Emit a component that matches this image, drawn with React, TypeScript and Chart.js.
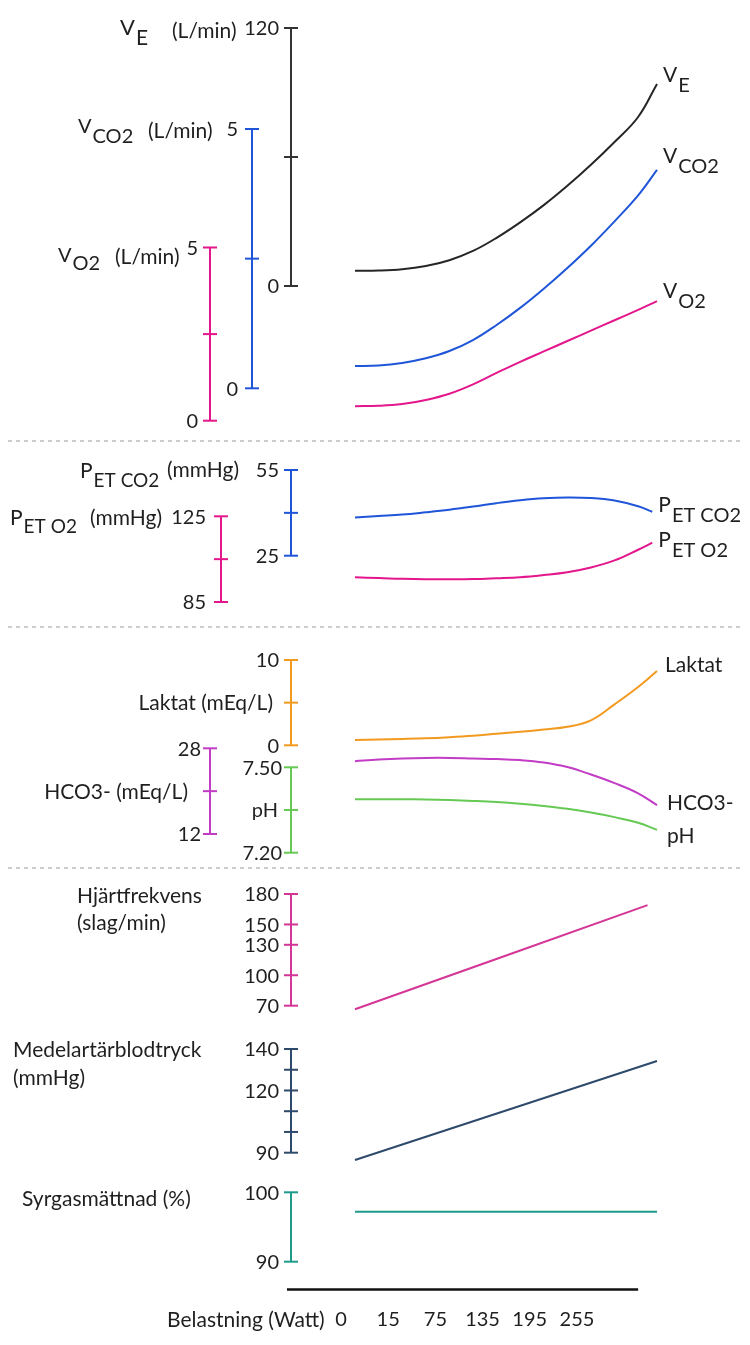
import React, { useEffect, useRef } from 'react';
import Chart from 'chart.js/auto';

// x: belastningssteg (0 = vila), etiketter i watt per steg
const steg = [0, 0.5, 1, 1.5, 2, 2.5, 3, 3.5, 4, 4.5, 5, 5.5, 6, 6.4];
const petSteg = [0, 0.5, 1, 1.5, 2, 2.5, 3, 3.5, 4, 4.5, 5, 5.5, 6, 6.3];
const linjeSteg = [0, 6.4];
const hrSteg = [0, 6.2];
const belastning = ['0', '15', '75', '135', '195', '255'];

// serier
const ve = [7.1, 7.2, 7.8, 9.3, 12.0, 16.3, 22.4, 29.6, 37.6, 46.6, 56.4, 67.0, 78.6, 94.0];
const vco2 = [0.43, 0.44, 0.49, 0.58, 0.72, 0.93, 1.22, 1.55, 1.92, 2.32, 2.75, 3.22, 3.72, 4.21];
const vo2 = [0.42, 0.43, 0.48, 0.6, 0.78, 1.05, 1.38, 1.7, 2.0, 2.3, 2.6, 2.9, 3.2, 3.45];
const petco2 = [38.4, 38.9, 39.4, 40.2, 41.1, 42.2, 43.4, 44.4, 45.1, 45.4, 45.2, 44.3, 42.3, 40.4];
const peto2 = [96.5, 96.2, 95.8, 95.6, 95.6, 95.7, 96.1, 96.6, 97.6, 98.9, 101.1, 104.4, 109.4, 112.7];
const laktat = [0.62, 0.68, 0.74, 0.82, 0.95, 1.12, 1.35, 1.58, 1.85, 2.17, 2.93, 4.8, 6.83, 8.71];
const hco3 = [25.6, 25.9, 26.1, 26.2, 26.2, 26.1, 26.0, 25.8, 25.35, 24.5, 23.1, 21.5, 19.6, 17.4];
const ph = [7.388, 7.388, 7.388, 7.387, 7.385, 7.382, 7.378, 7.372, 7.364, 7.354, 7.341, 7.325, 7.305, 7.28];
const hjartfrekvens = [66.5, 169];
const medelartartryck = [86.5, 134.2];
const syrgasmattnad = [97.2, 97.2];

// axelmarkeringar
const veTicks = [0, 60, 120];
const veTickText = ['0', '', '120'];
const vco2Ticks = [0, 2.5, 5];
const vco2TickText = ['0', '', '5'];
const vo2Ticks = [0, 2.5, 5];
const vo2TickText = ['0', '', '5'];
const petco2Ticks = [25, 40, 55];
const petco2TickText = ['25', '', '55'];
const peto2Ticks = [85, 105, 125];
const peto2TickText = ['85', '', '125'];
const laktatTicks = [0, 5, 10];
const laktatTickText = ['0', '', '10'];
const phTicks = [7.2, 7.35, 7.5];
const phTickText = ['7.20', '', '7.50'];
const hco3Ticks = [12, 20, 28];
const hco3TickText = ['12', '', '28'];
const hrTicks = [70, 100, 130, 150, 180];
const hrTickText = ['70', '100', '130', '150', '180'];
const mapTicks = [90, 100, 110, 120, 130, 140];
const mapTickText = ['90', '', '', '120', '', '140'];
const spo2Ticks = [90, 100];
const spo2TickText = ['90', '100'];

const W = 750;
const H = 1345;
const TEXT = '#1f1f1f';
const FAMILY = 'Lato, "Open Sans", sans-serif';

const BLACK = '#262626';
const BLUE = '#1f55d8';
const PINK = '#e3168c';
const ORANGE = '#f29a1f';
const PURPLE = '#c23cc6';
const GREEN = '#66c954';
const HR_PINK = '#d43596';
const NAVY = '#2e4a6b';
const TEAL = '#1e9a8c';

type AxisDef = {
  id: string; color: string; x: number; lo: number; hi: number; pxLo: number; pxHi: number;
  ticks: number[]; text: string[]; gap?: number; title?: string; titleGap?: number;
};

const axisLayout: AxisDef[] = [
  { id: 'yVE', color: '#333333', x: 291, lo: 0, hi: 120, pxLo: 286, pxHi: 28, ticks: veTicks, text: veTickText },
  { id: 'yVCO2', color: BLUE, x: 252, lo: 0, hi: 5, pxLo: 388.3, pxHi: 129, ticks: vco2Ticks, text: vco2TickText, gap: 14 },
  { id: 'yVO2', color: PINK, x: 210, lo: 0, hi: 5, pxLo: 420.7, pxHi: 247.5, ticks: vo2Ticks, text: vo2TickText },
  { id: 'yPETCO2', color: BLUE, x: 291, lo: 25, hi: 55, pxLo: 555.7, pxHi: 470, ticks: petco2Ticks, text: petco2TickText },
  { id: 'yPETO2', color: PINK, x: 221, lo: 85, hi: 125, pxLo: 602, pxHi: 516.3, ticks: peto2Ticks, text: peto2TickText, gap: 15 },
  { id: 'yLaktat', color: ORANGE, x: 291, lo: 0, hi: 10, pxLo: 745.3, pxHi: 660, ticks: laktatTicks, text: laktatTickText, title: 'Laktat (mEq/L)', titleGap: 18 },
  { id: 'yPH', color: GREEN, x: 291, lo: 7.2, hi: 7.5, pxLo: 852.7, pxHi: 767.3, ticks: phTicks, text: phTickText, gap: 9, title: 'pH', titleGap: 13 },
  { id: 'yHCO3', color: PURPLE, x: 210, lo: 12, hi: 28, pxLo: 834, pxHi: 748.3, ticks: hco3Ticks, text: hco3TickText, gap: 9, title: 'HCO3- (mEq/L)', titleGap: 22 },
  { id: 'yHR', color: HR_PINK, x: 291, lo: 70, hi: 180, pxLo: 1005.7, pxHi: 894, ticks: hrTicks, text: hrTickText },
  { id: 'yMAP', color: NAVY, x: 291, lo: 90, hi: 140, pxLo: 1152.7, pxHi: 1049, ticks: mapTicks, text: mapTickText },
  { id: 'ySpO2', color: TEAL, x: 291, lo: 90, hi: 100, pxLo: 1261.7, pxHi: 1192.3, ticks: spo2Ticks, text: spo2TickText },
];

const pts = (xs: number[], ys: number[]) => xs.map((x, i) => ({ x, y: ys[i] }));

// etikett vid kurvans slut
const endLabels: { ds: number; main: string; sub?: string; dx: number; dy: number }[] = [
  { ds: 0, main: 'V', sub: 'E', dx: 6, dy: -2 },
  { ds: 1, main: 'V', sub: 'CO2', dx: 6, dy: -7 },
  { ds: 2, main: 'V', sub: 'O2', dx: 6, dy: -3 },
  { ds: 3, main: 'P', sub: 'ET CO2', dx: 6, dy: 0 },
  { ds: 4, main: 'P', sub: 'ET O2', dx: 6, dy: 4 },
  { ds: 5, main: 'Laktat', dx: 8, dy: 1 },
  { ds: 6, main: 'HCO3-', dx: 10, dy: 5 },
  { ds: 7, main: 'pH', dx: 10, dy: 13 },
];

function subText(ctx: CanvasRenderingContext2D, x: number, y: number, main: string, sub: string, size: number, subSize: number, drop: number) {
  ctx.textAlign = 'left';
  ctx.textBaseline = 'alphabetic';
  ctx.font = `${size}px ${FAMILY}`;
  ctx.fillText(main, x, y);
  const w = ctx.measureText(main).width;
  ctx.font = `${subSize}px ${FAMILY}`;
  ctx.fillText(sub, x + w + 1, y + drop);
}

function text(ctx: CanvasRenderingContext2D, s: string, x: number, y: number, align: CanvasTextAlign = 'left', size = 21) {
  ctx.font = `${size}px ${FAMILY}`;
  ctx.textAlign = align;
  ctx.textBaseline = 'middle';
  ctx.fillText(s, x, y);
}

const diagramPlugin = {
  id: 'diagram',
  afterDatasetsDraw(chart: any) {
    const ctx: CanvasRenderingContext2D = chart.ctx;
    const xs = chart.scales.x;
    ctx.save();

    // streckade avdelare
    ctx.strokeStyle = '#9a9a9a';
    ctx.lineWidth = 1.2;
    ctx.setLineDash([4, 4]);
    [441, 627, 868].forEach((y) => {
      ctx.beginPath();
      ctx.moveTo(8, y);
      ctx.lineTo(742, y);
      ctx.stroke();
    });
    ctx.setLineDash([]);

    // y-axlar
    axisLayout.forEach((a) => {
      const s = chart.scales[a.id];
      ctx.strokeStyle = a.color;
      ctx.lineWidth = 2;
      ctx.beginPath();
      ctx.moveTo(a.x, s.getPixelForValue(a.lo));
      ctx.lineTo(a.x, s.getPixelForValue(a.hi));
      ctx.stroke();
      a.ticks.forEach((t, i) => {
        const y = s.getPixelForValue(t);
        ctx.beginPath();
        ctx.moveTo(a.x - 7, y);
        ctx.lineTo(a.x + 7, y);
        ctx.stroke();
        if (a.text[i]) {
          ctx.fillStyle = TEXT;
          text(ctx, a.text[i], a.x - (a.gap ?? 12), y + 1, 'right', 20);
        }
      });
      if (a.title) {
        ctx.fillStyle = TEXT;
        text(ctx, a.title, a.x - (a.titleGap ?? 12), s.getPixelForValue((a.lo + a.hi) / 2) + 1, 'right', a.title === 'pH' ? 20 : 21);
      }
    });

    ctx.fillStyle = TEXT;
    // rubriker
    subText(ctx, 120, 35, 'V', 'E', 22, 21, 10);
    text(ctx, '(L/min)', 172, 31);
    subText(ctx, 78, 133, 'V', 'CO2', 20, 20, 10);
    text(ctx, '(L/min)', 148, 131);
    subText(ctx, 58, 262, 'V', 'O2', 20, 20, 8);
    text(ctx, '(L/min)', 115, 257);
    subText(ctx, 80, 478, 'P', 'ET CO2', 21, 19, 9);
    text(ctx, '(mmHg)', 167, 470);
    subText(ctx, 10, 525, 'P', 'ET O2', 21, 19, 8);
    text(ctx, '(mmHg)', 90, 518);
    text(ctx, 'Hjärtfrekvens', 77, 896);
    text(ctx, '(slag/min)', 77, 923);
    text(ctx, 'Medelartärblodtryck', 13, 1050);
    text(ctx, '(mmHg)', 13, 1078);
    text(ctx, 'Syrgasmättnad (%)', 22, 1199);

    // kurvetiketter
    endLabels.forEach((l) => {
      const meta = chart.getDatasetMeta(l.ds);
      const p = meta.data[meta.data.length - 1];
      if (l.sub) subText(ctx, p.x + l.dx, p.y + l.dy, l.main, l.sub, 21, 20, 10);
      else {
        ctx.font = `21px ${FAMILY}`;
        ctx.textAlign = 'left';
        ctx.textBaseline = 'alphabetic';
        ctx.fillText(l.main, p.x + l.dx, p.y + l.dy);
      }
    });

    // x-axel
    ctx.strokeStyle = '#111';
    ctx.lineWidth = 2.5;
    ctx.beginPath();
    ctx.moveTo(287, 1289.5);
    ctx.lineTo(xs.getPixelForValue(6), 1289.5);
    ctx.stroke();
    text(ctx, 'Belastning (Watt)', 167, 1320);
    belastning.forEach((b, i) => {
      text(ctx, b, xs.getPixelForValue(i) - 14, 1320, 'center', 20);
    });
    ctx.restore();
  },
};

export default function App() {
  const canvasRef = useRef<HTMLCanvasElement>(null);
  const chartRef = useRef<Chart | null>(null);

  useEffect(() => {
    if (!canvasRef.current) return;
    const scales: any = {
      x: { type: 'linear', display: false, min: 0, max: 6.4, bounds: 'data' },
    };
    axisLayout.forEach((a) => {
      const k = (a.hi - a.lo) / (a.pxLo - a.pxHi);
      scales[a.id] = {
        type: 'linear',
        display: false,
        bounds: 'data',
        min: a.lo - (H - a.pxLo) * k,
        max: a.hi + a.pxHi * k,
      };
    });

    const curve = (data: { x: number; y: number }[], yAxisID: string, color: string) => ({
      data,
      yAxisID,
      xAxisID: 'x',
      borderColor: color,
      borderWidth: 2,
      pointRadius: 0,
      tension: 0.4,
      clip: false as const,
      fill: false,
    });

    chartRef.current = new Chart(canvasRef.current, {
      type: 'line',
      data: {
        datasets: [
          curve(pts(steg, ve), 'yVE', BLACK),
          curve(pts(steg, vco2), 'yVCO2', BLUE),
          curve(pts(steg, vo2), 'yVO2', PINK),
          curve(pts(petSteg, petco2), 'yPETCO2', BLUE),
          curve(pts(petSteg, peto2), 'yPETO2', PINK),
          curve(pts(steg, laktat), 'yLaktat', ORANGE),
          curve(pts(steg, hco3), 'yHCO3', PURPLE),
          curve(pts(steg, ph), 'yPH', GREEN),
          curve(pts(hrSteg, hjartfrekvens), 'yHR', HR_PINK),
          curve(pts(linjeSteg, medelartartryck), 'yMAP', NAVY),
          curve(pts(linjeSteg, syrgasmattnad), 'ySpO2', TEAL),
        ] as any,
      },
      options: {
        animation: false,
        responsive: true,
        maintainAspectRatio: false,
        layout: { padding: { left: 355, right: W - 657, top: 0, bottom: 0 } },
        plugins: { legend: { display: false }, tooltip: { enabled: false } },
        events: [],
        scales,
      },
      plugins: [diagramPlugin],
    });

    return () => {
      chartRef.current?.destroy();
      chartRef.current = null;
    };
  }, []);

  return (
    <div style={{ position: 'absolute', left: 0, top: 0, width: W, height: H, background: '#fff' }}>
      <canvas ref={canvasRef}></canvas>
    </div>
  );
}
